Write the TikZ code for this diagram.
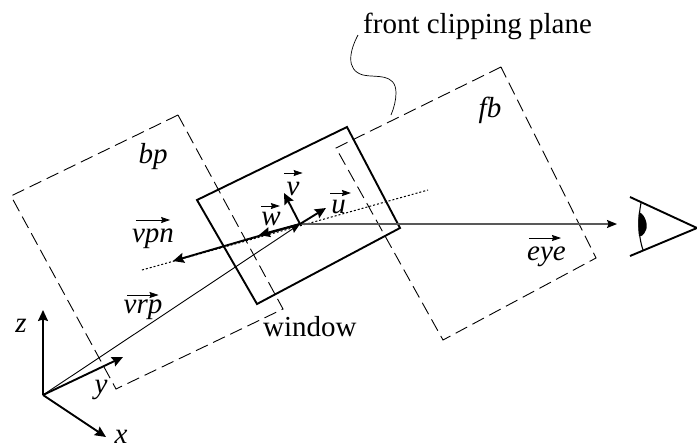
\documentclass[tikz,border=0pt]{standalone}
\usepackage{fontspec}
\setmainfont{Liberation Serif}
\usetikzlibrary{arrows.meta,calc}
\tikzset{
  x=1pt,y=-1pt,
  lab/.style={inner sep=0pt,font=\fontsize{29}{32}\selectfont},
  thickarrow/.style={line width=1.9pt,-{Stealth[length=11pt,width=10pt,inset=1.5pt]}},
  thinarrow/.style={line width=0.9pt,-{Stealth[length=10pt,width=8pt,inset=1.5pt]}},
  eyeline/.style={line width=1.3pt,black!65,-{Stealth[length=10pt,width=8pt,inset=1.5pt,black]}},
  plane/.style={line width=0.9pt,dash pattern=on 13pt off 6pt},
  windowbox/.style={line width=1.9pt,line join=miter},
  dotline/.style={line width=1pt,dash pattern=on 2pt off 2pt},
  vecbar/.style={line width=0.8pt,-{Stealth[length=9pt,width=6pt,inset=1pt]}},
}
% arrow above a label: node, left inset, right inset, height above baseline
\newcommand{\vecover}[4]{\draw[vecbar] ($(#1.base west)+(#2,-#4)$) -- ($(#1.base east)+(-#3,-#4)$);}
\begin{document}
\begin{tikzpicture}
\useasboundingbox (0,0) rectangle (697,445);
% named points
\coordinate (O) at (43,395);
\coordinate (ztip) at (43,310);
\coordinate (xtip) at (106,437);
\coordinate (ytip) at (123,357);
\coordinate (C) at (300,224);
\coordinate (wtip) at (259,235);
\coordinate (vpntip) at (173,261);
\coordinate (utip) at (326,208);
\coordinate (vtip) at (284,193);
\coordinate (dotA) at (142,270);
\coordinate (dotB) at (428,190);
\coordinate (eyetip) at (617,224);
\coordinate (w1) at (197,200);
\coordinate (w2) at (347,127);
\coordinate (w3) at (400,228);
\coordinate (w4) at (257,304);
\coordinate (b1) at (178,115);
\coordinate (b2) at (11,196);
\coordinate (b3) at (116,389);
\coordinate (b4) at (283,309);
\coordinate (f1) at (501,67);
\coordinate (f2) at (336,148);
\coordinate (f3) at (443,340);
\coordinate (f4) at (596,258);
\coordinate (e1) at (630,197);
\coordinate (e2) at (630,256);
\coordinate (e3) at (697,228);
% planes
\draw[plane] (b1) -- (b2) -- (b3) -- (b4) -- cycle;
\draw[plane] (f1) -- (f2) -- (f3) -- (f4) -- cycle;
% window
\draw[windowbox] (w1) -- (w2) -- (w3) -- (w4) -- cycle;
% dotted axis
\draw[dotline] (dotA) -- (dotB);
% lines and arrows
\draw[thinarrow] (O) -- (C);
\draw[eyeline] (C) -- (eyetip);
\draw[thickarrow] (O) -- (ztip);
\draw[thickarrow] (O) -- (xtip);
\draw[thickarrow] (O) -- (ytip);
\draw[thickarrow] (C) -- (vpntip);
\draw[thickarrow] (C) -- (wtip);
\draw[thickarrow] (C) -- (utip);
\draw[thickarrow] (C) -- (vtip);
% eye
\draw[line width=1.9pt] (e1) -- (e3) -- (e2);
\draw[line width=1.1pt] (641,203) .. controls (638,218) and (638,235) .. (643,250);
\fill (639,212) .. controls (646,215) and (648,226) .. (646,230) .. controls (644,235) and (641,237) .. (639,236) .. controls (638,228) and (638,220) .. (639,212) -- cycle;
% squiggle
\draw[line width=0.7pt] (358,35) .. controls (350,50) and (345,70) .. (363,75)
  .. controls (375,78) and (396,72) .. (396,93) .. controls (396,100) and (394,108) .. (391,115);
% labels
\node[lab,anchor=base west] (lfront) at (363,33) {front clipping plane};
\node[lab,anchor=base] (lbp) at (153,163) {\itshape bp};
\node[lab,anchor=base] (lfb) at (490,117) {\itshape fb};
\node[lab,anchor=base] (lvpn) at (153,242) {\itshape vpn};
\node[lab,anchor=base] (lvrp) at (143,313) {\itshape vrp};
\node[lab,anchor=base] (leye) at (546.5,260) {\itshape eye};
\node[lab,anchor=base] (lw) at (271,225) {\itshape w};
\node[lab,anchor=base] (lv) at (293,195) {\itshape v};
\node[lab,anchor=base] (lu) at (338.5,213) {\itshape u};
\node[lab,anchor=base west] (lwin) at (263,336) {window};
\node[lab,anchor=base] (lz) at (21,332) {\itshape z};
\node[lab,anchor=base] (ly) at (101,393) {\itshape y};
\node[lab,anchor=base] (lx) at (121,443) {\itshape x};
\vecover{lvpn}{4}{4}{22}
\vecover{lvrp}{4}{4}{18}
\vecover{leye}{2}{5}{22}
\vecover{lw}{0}{1}{19}
\vecover{lv}{-2}{-3}{22}
\vecover{lu}{-1}{-5}{20}
\end{tikzpicture}
\end{document}
